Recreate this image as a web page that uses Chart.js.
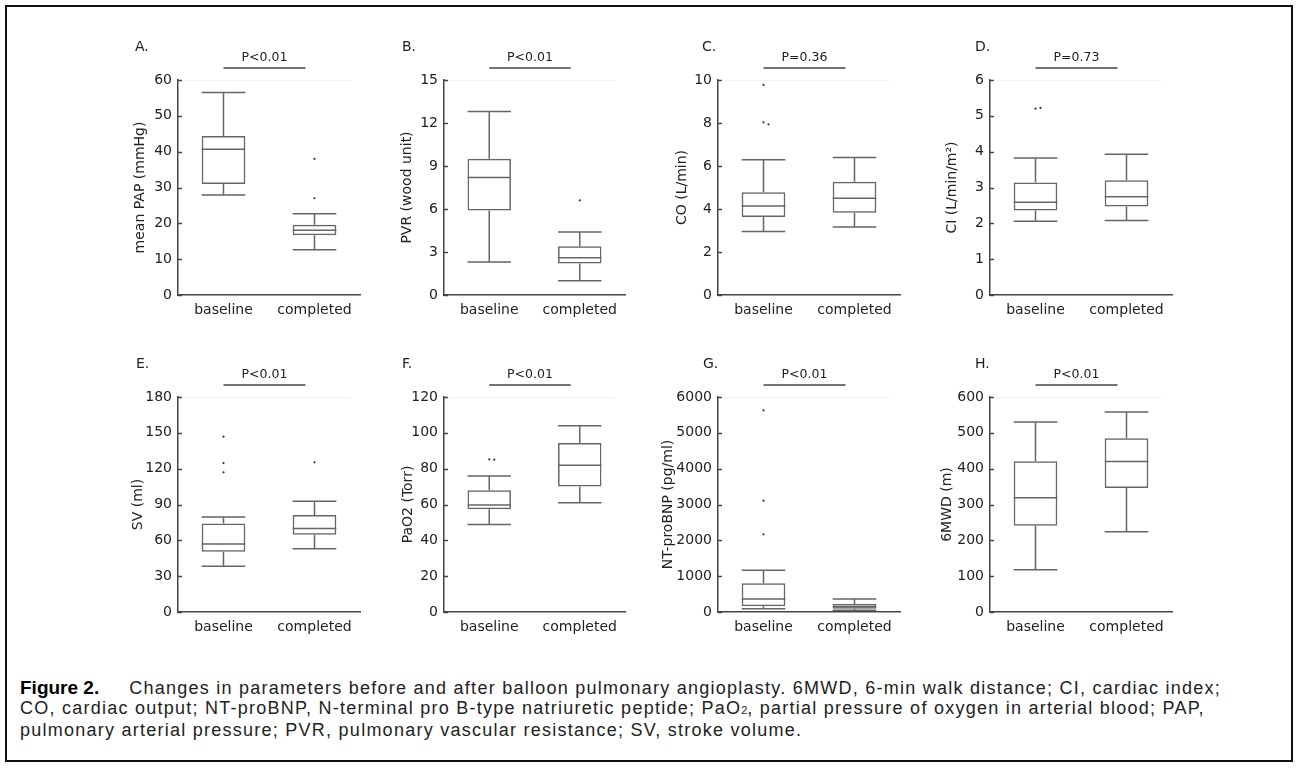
<!DOCTYPE html>
<html>
<head>
<meta charset="utf-8">
<script src="https://cdn.jsdelivr.net/npm/chart.js@4.4.0/dist/chart.umd.min.js"></script>
<style>
  body { margin: 0; background: #fff; width: 1298px; height: 769px; position: relative; overflow: hidden; }
  #frame { position: absolute; left: 5px; top: 5px; width: 1284px; height: 753px; border: 2px solid #111; }
  .panel { position: absolute; }
  #caption { position: absolute; left: 20px; top: 678px; width: 1265px; font-family: 'Liberation Sans', Arial, sans-serif;
             font-size: 18px; letter-spacing: 1.25px; line-height: 20px; color: #222; white-space: nowrap; }
  #caption .fig { font-family: 'Liberation Sans Narrow', 'Liberation Sans', sans-serif; font-weight: bold; color: #000;
                  font-size: 19px; letter-spacing: 0; margin-right: 30px; }
  #caption .sub { font-size: 11px; letter-spacing: 0; }
</style>
</head>
<body>
<div id="frame"></div>
<div id="caption"><span class="fig">Figure 2.</span>Changes in parameters before and after balloon pulmonary angioplasty. 6MWD, 6-min walk distance; CI, cardiac index;<br>CO, cardiac output; NT-proBNP, N-terminal pro B-type natriuretic peptide; PaO<span class="sub">2</span>, partial pressure of oxygen in arterial blood; PAP,<br>pulmonary arterial pressure; PVR, pulmonary vascular resistance; SV, stroke volume.</div>

<script>
// categories
const groups = ['baseline', 'completed'];

// box stats: [low whisker, Q1, median, Q3, high whisker]
const papBase = [27.9, 31.0, 40.7, 44.4, 56.5];
const papDone = [12.6, 16.7, 18.1, 19.6, 22.7];
const papOut = [[], [38.0, 27.0]];

const pvrBase = [2.3, 5.9, 8.2, 9.5, 12.8];
const pvrDone = [1.0, 2.2, 2.6, 3.4, 4.4];
const pvrOut = [[], [6.6]];

const coBase = [2.95, 3.63, 4.14, 4.78, 6.29];
const coDone = [3.16, 3.83, 4.50, 5.27, 6.39];
const coOut = [[9.77, 8.03, 7.94], []];

const ciBase = [2.06, 2.36, 2.59, 3.14, 3.82];
const ciDone = [2.08, 2.47, 2.74, 3.20, 3.93];
const ciOut = [[5.2, 5.22], []];

const svBase = [38.2, 50.5, 56.9, 74.0, 79.5];
const svDone = [53.0, 64.7, 70.0, 81.2, 92.7];
const svOut = [[146.8, 124.7, 116.9], [125.3]];

const paoBase = [48.9, 57.3, 59.7, 67.9, 75.9];
const paoDone = [61.0, 70.1, 81.9, 94.3, 104.0];
const paoOut = [[85.2, 85.0], []];

const bnpBase = [93, 158, 363, 800, 1163];
const bnpDone = [50, 90, 150, 220, 360];
const bnpOut = [[5628, 3107, 2167], []];

const mwdBase = [118, 241, 319, 421, 530];
const mwdDone = [224, 346, 420, 485, 558];
const mwdOut = [[], []];

// y axis settings
const yMax = [60, 15, 10, 6, 180, 120, 6000, 600];
const yStep = [10, 3, 2, 1, 30, 20, 1000, 100];
const yTitles = ['mean PAP (mmHg)', 'PVR (wood unit)', 'CO (L/min)', 'CI (L/min/m\u00B2)',
                 'SV (ml)', 'PaO2 (Torr)', 'NT-proBNP (pg/ml)', '6MWD (m)'];
const pLabels = ['P<0.01', 'P<0.01', 'P=0.36', 'P=0.73', 'P<0.01', 'P<0.01', 'P<0.01', 'P<0.01'];
const letters = ['A.', 'B.', 'C.', 'D.', 'E.', 'F.', 'G.', 'H.'];

const stats = [
  [papBase, papDone], [pvrBase, pvrDone], [coBase, coDone], [ciBase, ciDone],
  [svBase, svDone], [paoBase, paoDone], [bnpBase, bnpDone], [mwdBase, mwdDone]
];
const outliers = [papOut, pvrOut, coOut, ciOut, svOut, paoOut, bnpOut, mwdOut];

// layout (pixels)
const axisX = [178, 444, 718, 990];
const axisEnd = [360, 625, 900, 1172];
const rowTop = [30, 347];
const titleGap = [38, 37, 36, 38, 40, 36, 50, 43];
const letterX = [135, 402, 702, 975, 136, 402, 703, 975];

Chart.defaults.font.family = "'DejaVu Sans', Verdana, sans-serif";
Chart.defaults.color = '#222';

const LINE = '#666';

const boxExtras = {
  id: 'boxExtras',
  afterDatasetsDraw(chart, args, opts) {
    const ctx = chart.ctx;
    const xs = chart.scales.x, ys = chart.scales.y;
    const meta = chart.getDatasetMeta(0);
    const area = chart.chartArea;
    ctx.save();

    // faint line at the top value
    ctx.strokeStyle = '#f0f0f0';
    ctx.lineWidth = 1;
    ctx.beginPath();
    ctx.moveTo(area.left + 6, ys.getPixelForValue(ys.max) + 0.5);
    ctx.lineTo(area.right - 10, ys.getPixelForValue(ys.max) + 0.5);
    ctx.stroke();

    // inward tick marks
    ctx.strokeStyle = '#444';
    ctx.lineWidth = 1.5;
    ys.ticks.forEach(t => {
      const y = Math.round(ys.getPixelForValue(t.value)) + 0.5;
      ctx.beginPath();
      ctx.moveTo(area.left, y);
      ctx.lineTo(area.left + 4, y);
      ctx.stroke();
    });

    // medians, whiskers, caps
    ctx.strokeStyle = LINE;
    ctx.lineWidth = 1.5;
    opts.stats.forEach((s, i) => {
      const bar = meta.data[i];
      const cx = xs.getPixelForValue(i);
      const half = bar.width / 2;
      const pl = v => ys.getPixelForValue(v);
      ctx.beginPath();
      ctx.moveTo(cx - half, pl(s[2])); ctx.lineTo(cx + half, pl(s[2]));
      ctx.moveTo(cx, pl(s[3])); ctx.lineTo(cx, pl(s[4]));
      ctx.moveTo(cx - half, pl(s[4])); ctx.lineTo(cx + half, pl(s[4]));
      ctx.moveTo(cx, pl(s[1])); ctx.lineTo(cx, pl(s[0]));
      ctx.moveTo(cx - half, pl(s[0])); ctx.lineTo(cx + half, pl(s[0]));
      ctx.stroke();

      // outliers, spread sideways when they sit on top of each other
      ctx.fillStyle = '#333';
      const placed = [];
      opts.outliers[i].forEach(v => {
        const y = pl(v);
        const near = placed.filter(p => Math.abs(p - y) < 4).length;
        const dx = near === 0 ? 0 : (near % 2 ? 5 : -5) * Math.ceil(near / 2);
        placed.push(y);
        ctx.beginPath();
        ctx.arc(cx + dx, y, 1.1, 0, Math.PI * 2);
        ctx.fill();
      });
    });
    ctx.restore();
  },
  afterDraw(chart, args, opts) {
    const ctx = chart.ctx;
    const xs = chart.scales.x;
    const top = chart.chartArea.top;
    const x0 = xs.getPixelForValue(0);
    const x1 = xs.getPixelForValue(1) - 9;
    ctx.save();
    ctx.fillStyle = '#222';
    ctx.textBaseline = 'middle';
    ctx.font = "14px 'DejaVu Sans'";
    ctx.textAlign = 'left';
    ctx.fillText(opts.letter, opts.letterX, top - 33);
    ctx.font = "12.5px 'DejaVu Sans'";
    ctx.textAlign = 'center';
    ctx.fillText(opts.pText, (x0 + x1) / 2, top - 22);
    ctx.strokeStyle = '#444';
    ctx.lineWidth = 1.3;
    ctx.beginPath();
    ctx.moveTo(x0, top - 12);
    ctx.lineTo(x1, top - 12);
    ctx.stroke();
    ctx.restore();
  }
};

for (let k = 0; k < 8; k++) {
  const col = k % 4, row = Math.floor(k / 4);
  const axisW = titleGap[k] + 12;
  const left = axisX[col] - axisW;
  const width = axisEnd[col] + 10 - left;
  const height = 300;

  const div = document.createElement('div');
  div.className = 'panel';
  div.style.left = left + 'px';
  div.style.top = rowTop[row] + 'px';
  div.style.width = width + 'px';
  div.style.height = height + 'px';
  const canvas = document.createElement('canvas');
  div.appendChild(canvas);
  document.body.appendChild(div);

  const base = stats[k][0], done = stats[k][1];

  new Chart(canvas.getContext('2d'), {
    type: 'bar',
    data: {
      labels: groups,
      datasets: [{
        data: [[base[1], base[3]], [done[1], done[3]]],
        backgroundColor: 'rgba(255,255,255,0)',
        borderColor: LINE,
        borderWidth: 1.5,
        borderSkipped: false,
        barPercentage: 0.48,
        categoryPercentage: 1
      }]
    },
    options: {
      responsive: true,
      maintainAspectRatio: false,
      animation: false,
      events: [],
      layout: { padding: { top: 50, right: 10, left: 0, bottom: 0 } },
      plugins: {
        legend: { display: false },
        tooltip: { enabled: false },
        boxExtras: {
          stats: stats[k],
          outliers: outliers[k],
          pText: pLabels[k],
          letter: letters[k],
          letterX: letterX[k] - left
        }
      },
      scales: {
        x: {
          grid: { display: false, drawTicks: false },
          border: { color: '#444', width: 1.5 },
          ticks: { color: '#222', font: { size: 14 }, padding: 7 },
          afterFit: s => { s.height = 35; }
        },
        y: {
          min: 0,
          max: yMax[k],
          grid: { display: false, drawTicks: false },
          border: { color: '#444', width: 1.5 },
          ticks: { stepSize: yStep[k], color: '#222', font: { size: 14 }, padding: 6, callback: v => String(v) },
          title: { display: true, text: yTitles[k], color: '#222', font: { size: 14 }, padding: { top: 4, bottom: 0 } },
          afterFit: s => { s.width = axisW; }
        }
      }
    },
    plugins: [boxExtras]
  });
}
</script>
</body>
</html>
